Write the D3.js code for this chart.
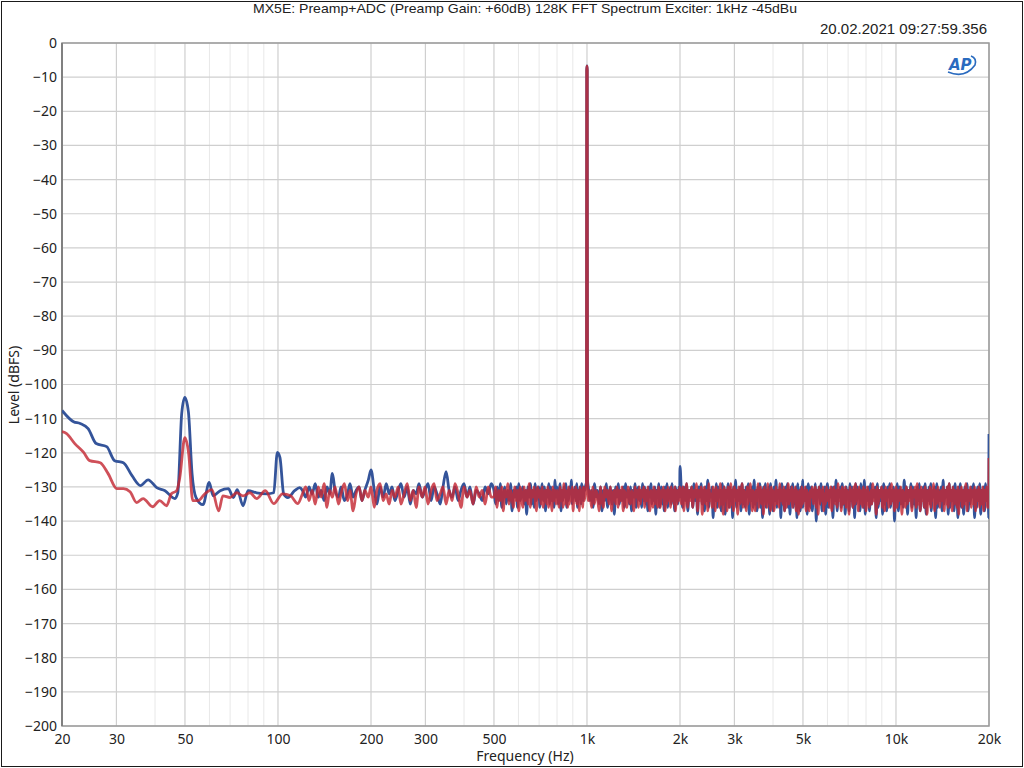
<!DOCTYPE html>
<html>
<head>
<meta charset="utf-8">
<script src="https://cdn.jsdelivr.net/npm/d3@7"></script>
<style>
  body { margin: 0; background: #fff; }
  .tick text { font-family: "Noto Sans", "DejaVu Sans", sans-serif; font-size: 14px; fill: #222; }
  .lbl { font-family: "Noto Sans", "DejaVu Sans", sans-serif; font-size: 14px; fill: #222; }
</style>
</head>
<body>
<script>
// ---- data ----
var freqTicks = [20, 30, 50, 100, 200, 300, 500, 1000, 2000, 3000, 5000, 10000, 20000];
var freqLabels = ["20", "30", "50", "100", "200", "300", "500", "1k", "2k", "3k", "5k", "10k", "20k"];
var levelTicks = d3.range(-200, 10, 10);

// low end, hand traced [Hz, dBFS]
var blueLow = [[20, -107.6], [21.8, -110.9], [22.9, -111.4], [24.3, -112.9], [25.8, -117.3], [27.9, -118.2],
    [29.6, -122.3], [31.6, -122.9], [33.7, -126.7], [35.9, -129.6], [38, -127.9], [40.5, -130.2], [43.1, -131.1],
    [46.4, -133.4], [47.4, -131.7], [48.8, -108.5], [49.95, -103.8], [51.3, -108], [52.7, -126], [54.3, -133.1],
    [57.2, -135.2], [59.9, -128.7], [61.7, -132.6], [65, -131.1], [69.1, -130.5], [71.7, -133.1], [73.8, -130.8],
    [77.1, -135.5], [80, -131.1], [85.3, -131.7], [92.1, -132], [96.9, -131.7], [99.5, -119.9], [101.5, -121.4],
    [104.3, -132], [107.6, -133.1], [113.2, -131.1], [117.5, -130.2]];
var redLow = [[20, -113.8], [20.7, -114.4], [22, -117.3], [23.5, -119.9], [24.6, -122.3], [26.6, -122.9],
    [28.2, -126.1], [30.1, -130.5], [31.6, -130.5], [33.2, -131.4], [34.9, -134.6], [36.6, -133.4], [39.3, -135.8],
    [41.4, -134], [43.6, -135.5], [45.2, -132], [47, -131.1], [48.1, -127.3], [49.95, -115.6], [51.4, -120.2],
    [53, -134], [55.1, -134], [58, -132], [61.1, -130.8], [64.3, -137], [66.3, -132.6], [70, -133.1], [73.5, -131.7],
    [77.1, -132.6], [81.1, -131.7], [85.3, -133.4], [91, -131.1], [96.9, -134.9], [103.4, -132], [109.9, -132.6],
    [116, -134.9]];

// 120 Hz - 490 Hz
var freqMid = [
    120, 123, 126, 129, 132, 135, 138, 141, 144, 147,
    150, 153, 157, 160, 164, 168, 171, 175, 179, 183,
    187, 191, 196, 200, 205, 209, 214, 219, 224, 229,
    234, 239, 245, 250, 256, 262, 268, 274, 280, 286,
    293, 299, 306, 313, 320, 327, 335, 342, 350, 358,
    366, 374, 383, 391, 400, 409, 418, 428, 438, 448,
    458, 468, 479, 490];
var blueMid = [
    -131, -133, -130, -132, -129, -133, -131, -134, -130, -132,
    -126, -131, -133, -130, -134, -132, -129, -133, -131, -130,
    -134, -131, -128, -125, -131, -135, -130, -133, -129, -132,
    -130, -134, -131, -129, -133, -130, -135, -131, -132, -129,
    -133, -131, -129, -134, -130, -132, -135, -130, -125.5, -131,
    -133, -130, -134, -131, -129, -133, -130, -135, -131, -132,
    -134, -130, -132, -129];
var redMid = [
    -132, -130, -134, -131, -135, -130, -133, -129, -136, -131,
    -133, -130, -135, -132, -129, -134, -131, -137, -132, -130,
    -134, -131, -133, -130, -136, -131, -129, -134, -132, -135,
    -131, -133, -130, -135, -132, -129, -134, -131, -136, -130,
    -133, -130, -135, -131, -129, -134, -132, -130, -135, -131,
    -134, -129, -132, -136, -130, -133, -131, -135, -130, -133,
    -131, -135, -130, -133];

// 500 Hz - 992 Hz
var freqA = [
    500, 506, 512, 518, 524, 530, 536, 542, 548, 554,
    560, 566, 572, 578, 584, 590, 596, 602, 608, 614,
    620, 626, 632, 638, 644, 650, 656, 662, 668, 674,
    680, 686, 692, 698, 704, 710, 716, 722, 728, 734,
    740, 746, 752, 758, 764, 770, 776, 782, 788, 794,
    800, 806, 812, 818, 824, 830, 836, 842, 848, 854,
    860, 866, 872, 878, 884, 890, 896, 902, 908, 914,
    920, 926, 932, 938, 944, 950, 956, 962, 968, 974,
    980, 986, 992];
var blueA = [
    -131, -135, -130, -134, -129, -136, -132, -130, -135, -131,
    -134, -129, -137, -131, -133, -130, -136, -129, -134, -132,
    -130, -135, -131, -138, -130, -133, -129, -135, -131, -136,
    -129, -134, -131, -130, -136, -132, -129, -134, -130, -137,
    -131, -133, -129, -135, -130, -134, -131, -136, -128, -133,
    -130, -135, -132, -129, -137, -131, -134, -130, -133, -129,
    -136, -131, -134, -130, -132, -128, -135, -131, -133, -130,
    -134, -129, -136, -131, -133, -130, -135, -129, -132, -134,
    -130, -131, -129];
var redA = [
    -133, -130, -136, -131, -134, -130, -137, -131, -133, -129,
    -135, -131, -133, -136, -130, -134, -131, -137, -130, -133,
    -136, -130, -134, -131, -135, -129, -136, -131, -133, -130,
    -134, -137, -130, -133, -131, -135, -130, -136, -132, -131,
    -135, -130, -136, -131, -133, -137, -130, -134, -131, -135,
    -131, -133, -136, -130, -134, -131, -136, -129, -135, -131,
    -133, -136, -130, -135, -131, -134, -130, -137, -131, -134,
    -130, -135, -131, -133, -137, -130, -134, -131, -136, -130,
    -134, -132, -130];

// the 1 kHz tone
var freqTone = [996, 998, 1000, 1002, 1004];
var blueTone = [-129, -8, -6.7, -8, -128];
var redTone = [-130, -8, -6.8, -8, -129];

// 1010 Hz - 1994 Hz
var freqB = [
    1010, 1022, 1034, 1046, 1058, 1070, 1082, 1094, 1106, 1118,
    1130, 1142, 1154, 1166, 1178, 1190, 1202, 1214, 1226, 1238,
    1250, 1262, 1274, 1286, 1298, 1310, 1322, 1334, 1346, 1358,
    1370, 1382, 1394, 1406, 1418, 1430, 1442, 1454, 1466, 1478,
    1490, 1502, 1514, 1526, 1538, 1550, 1562, 1574, 1586, 1598,
    1610, 1622, 1634, 1646, 1658, 1670, 1682, 1694, 1706, 1718,
    1730, 1742, 1754, 1766, 1778, 1790, 1802, 1814, 1826, 1838,
    1850, 1862, 1874, 1886, 1898, 1910, 1922, 1934, 1946, 1958,
    1970, 1982, 1994];
var blueB = [
    -130, -134, -131, -136, -129, -133, -131, -135, -130, -137,
    -131, -134, -129, -136, -132, -130, -135, -131, -138, -130,
    -133, -129, -135, -131, -134, -130, -136, -129, -133, -131,
    -135, -130, -137, -131, -133, -129, -136, -132, -130, -134,
    -131, -136, -129, -134, -130, -135, -131, -137, -130, -133,
    -129, -135, -131, -134, -130, -138, -131, -133, -129, -136,
    -132, -130, -135, -131, -137, -130, -134, -129, -136, -131,
    -133, -130, -135, -129, -134, -131, -137, -130, -133, -131,
    -135, -130, -133];
var redB = [
    -134, -131, -136, -130, -135, -131, -133, -137, -130, -134,
    -136, -130, -133, -131, -135, -130, -137, -132, -131, -135,
    -130, -136, -131, -134, -130, -137, -131, -133, -136, -130,
    -132, -135, -131, -134, -137, -130, -133, -131, -136, -130,
    -135, -131, -133, -130, -136, -131, -134, -130, -135, -137,
    -131, -133, -136, -130, -135, -131, -134, -136, -130, -133,
    -136, -131, -133, -130, -134, -137, -131, -135, -130, -134,
    -131, -136, -130, -134, -131, -135, -130, -137, -131, -135,
    -131, -134, -130];

// 2 kHz - 19.92 kHz
var freqC = [
    2000, 2020, 2040, 2060, 2080, 2100, 2120, 2140, 2160, 2180,
    2200, 2220, 2240, 2260, 2280, 2300, 2320, 2340, 2360, 2380,
    2400, 2420, 2440, 2460, 2480, 2500, 2520, 2540, 2560, 2580,
    2600, 2620, 2640, 2660, 2680, 2700, 2720, 2740, 2760, 2780,
    2800, 2820, 2840, 2860, 2880, 2900, 2920, 2940, 2960, 2980,
    3000, 3025, 3050, 3075, 3100, 3125, 3150, 3175, 3200, 3225,
    3250, 3275, 3300, 3325, 3350, 3375, 3400, 3425, 3450, 3475,
    3500, 3525, 3550, 3575, 3600, 3625, 3650, 3675, 3700, 3725,
    3750, 3775, 3800, 3825, 3850, 3875, 3900, 3925, 3950, 3975,
    4000, 4030, 4060, 4090, 4120, 4150, 4180, 4210, 4240, 4270,
    4300, 4330, 4360, 4390, 4420, 4450, 4480, 4510, 4540, 4570,
    4600, 4630, 4660, 4690, 4720, 4750, 4780, 4810, 4840, 4870,
    4900, 4930, 4960, 4990,
    5000, 5040, 5080, 5120, 5160, 5200, 5240, 5280, 5320, 5360,
    5400, 5440, 5480, 5520, 5560, 5600, 5640, 5680, 5720, 5760,
    5800, 5840, 5880, 5920, 5960,
    6000, 6050, 6100, 6150, 6200, 6250, 6300, 6350, 6400, 6450,
    6500, 6550, 6600, 6650, 6700, 6750, 6800, 6850, 6900, 6950,
    7000, 7050, 7100, 7150, 7200, 7250, 7300, 7350, 7400, 7450,
    7500, 7550, 7600, 7650, 7700, 7750, 7800, 7850, 7900, 7950,
    8000, 8070, 8140, 8210, 8280, 8350, 8420, 8490, 8560, 8630,
    8700, 8770, 8840, 8910, 8980, 9050, 9120, 9190, 9260, 9330,
    9400, 9470, 9540, 9610, 9680, 9750, 9820, 9890, 9960,
    10000, 10090, 10180, 10270, 10360, 10450, 10540, 10630, 10720, 10810,
    10900, 10990, 11080, 11170, 11260, 11350, 11440, 11530, 11620, 11710,
    11800, 11890, 11980, 12070, 12160, 12250, 12340, 12430, 12520, 12610,
    12700, 12790, 12880, 12970,
    13000, 13110, 13220, 13330, 13440, 13550, 13660, 13770, 13880, 13990,
    14100, 14210, 14320, 14430, 14540, 14650, 14760, 14870, 14980, 15090,
    15200, 15310, 15420, 15530, 15640, 15750, 15860, 15970,
    16000, 16140, 16280, 16420, 16560, 16700, 16840, 16980, 17120, 17260,
    17400, 17540, 17680, 17820, 17960, 18100, 18240, 18380, 18520, 18660,
    18800, 18940, 19080, 19220, 19360, 19500, 19640, 19780, 19920];
var blueC = [
    -124, -131, -136, -130, -134, -129, -137, -131, -133, -130,
    -136, -129, -134, -131, -138, -130, -133, -129, -135, -131,
    -137, -130, -134, -128, -136, -131, -133, -130, -139, -131,
    -134, -129, -136, -130, -133, -131, -137, -129, -135, -130,
    -138, -131, -133, -129, -136, -130, -134, -131, -139, -130,
    -133, -128, -136, -131, -134, -130, -137, -129, -135, -131,
    -136, -130, -133, -129, -138, -131, -134, -130, -136, -128,
    -135, -131, -137, -130, -133, -129, -136, -131, -139, -130,
    -134, -129, -136, -131, -133, -130, -138, -129, -135, -131,
    -137, -130, -134, -128, -136, -131, -133, -130, -139, -129,
    -135, -131, -137, -130, -134, -129, -136, -131, -138, -130,
    -133, -129, -136, -131, -135, -130, -139, -129, -134, -131,
    -137, -130, -133, -128, -136, -131, -134, -130, -138, -129,
    -132, -136, -130, -137, -131, -134, -129, -140, -131, -133,
    -130, -135, -129, -137, -131, -134, -130, -138, -132, -129,
    -136, -131, -133, -130, -139, -130, -134, -128, -137, -131,
    -133, -130, -136, -129, -135, -131, -138, -130, -133, -131,
    -137, -129, -134, -130, -136, -131, -139, -129, -135, -130,
    -133, -131, -137, -129, -134, -130, -136, -128, -138, -131,
    -134, -130, -137, -129, -135, -131, -133, -130, -139, -129,
    -136, -131, -134, -130, -138, -129, -135, -131, -137, -130,
    -133, -129, -136, -131, -134, -130, -140, -131, -133, -129,
    -137, -130, -135, -131, -136, -128, -134, -130, -138, -131,
    -133, -129, -136, -130, -135, -131, -139, -130, -134, -129,
    -137, -131, -133, -130, -136, -129, -138, -131, -134, -130,
    -135, -129, -137, -131, -133, -130, -139, -129, -136, -131,
    -134, -130, -137, -128, -135, -131, -133, -130, -138, -129,
    -136, -131, -134, -130, -137, -129, -135, -131, -139, -130,
    -133, -129, -136, -131, -138, -130, -134, -129, -137, -131,
    -135, -130, -133, -129, -139, -131, -136, -130, -134, -129,
    -138, -131, -135, -130, -137, -129, -134, -131, -136];
var redC = [
    -131, -135, -130, -137, -132, -129, -136, -131, -134, -130,
    -136, -131, -133, -129, -137, -131, -134, -130, -138, -132,
    -130, -135, -131, -137, -129, -134, -132, -136, -130, -133,
    -137, -130, -134, -131, -136, -129, -135, -131, -138, -130,
    -134, -131, -137, -130, -133, -136, -129, -135, -131, -137,
    -130, -134, -131, -138, -130, -135, -132, -129, -136, -131,
    -133, -137, -130, -135, -131, -129, -134, -137, -131, -133,
    -137, -131, -134, -129, -136, -132, -130, -135, -131, -138,
    -130, -135, -131, -136, -129, -134, -132, -137, -130, -133,
    -131, -137, -134, -130, -135, -131, -136, -129, -134, -131,
    -135, -130, -137, -131, -136, -132, -129, -135, -131, -134,
    -130, -136, -131, -134, -130, -137, -131, -135, -138, -131,
    -133, -136, -130, -135, -131, -134, -130, -137, -131, -135,
    -137, -131, -133, -130, -135, -132, -130, -136, -131, -138,
    -130, -135, -131, -134, -130, -137, -132, -135, -130, -134,
    -131, -136, -130, -137, -133, -130, -135, -131, -136, -129,
    -134, -131, -137, -130, -135, -132, -130, -136, -131, -134,
    -138, -130, -133, -131, -136, -130, -135, -129, -134, -131,
    -137, -130, -135, -131, -133, -136, -130, -134, -131, -137,
    -130, -133, -136, -131, -135, -129, -134, -131, -138, -130,
    -135, -131, -133, -130, -136, -131, -137, -130, -134, -131,
    -136, -130, -135, -129, -134, -131, -137, -132, -130, -136,
    -131, -134, -130, -138, -131, -133, -136, -130, -135, -131,
    -134, -130, -137, -131, -133, -130, -136, -129, -135, -131,
    -137, -130, -134, -131, -136, -130, -133, -138, -131, -135,
    -130, -136, -131, -134, -129, -137, -131, -135, -130, -133,
    -136, -131, -134, -130, -137, -131, -135, -130, -136, -129,
    -134, -131, -137, -130, -135, -131, -133, -136, -130, -138,
    -131, -134, -130, -136, -131, -135, -129, -137, -131, -134,
    -130, -136, -131, -135, -130, -137, -131, -134, -130, -136,
    -131, -135, -130, -137, -131, -134, -130, -136, -133];

// top edge of the band
var freqEnd = [19960, 20000];
var blueEnd = [-139, -114.5];
var redEnd = [-136, -121.5];

// ---- chart ----
function pairs(f, v) {
    var n = Math.min(f.length, v.length);
    return f.slice(0, n).map(function (d, i) { return [d, v[i]]; });
}
var blueData = blueLow.concat(pairs(freqMid, blueMid), pairs(freqA, blueA), pairs(freqTone, blueTone),
    pairs(freqB, blueB), pairs(freqC, blueC), pairs(freqEnd, blueEnd));
var redData = redLow.concat(pairs(freqMid, redMid), pairs(freqA, redA), pairs(freqTone, redTone),
    pairs(freqB, redB), pairs(freqC, redC), pairs(freqEnd, redEnd));

var W = 1024, H = 768;
var margin = {top: 43, right: 35, bottom: 42, left: 62},
    width = W - margin.left - margin.right,
    height = H - margin.top - margin.bottom;

var x = d3.scaleLog().domain([20, 20000]).range([0, width]);
var y = d3.scaleLinear().domain([-200, 0]).range([height, 0]);

var svg = d3.select("body").append("svg")
    .attr("width", W)
    .attr("height", H);

// outer frame
svg.append("rect")
    .attr("x", 1.5).attr("y", 1.5)
    .attr("width", W - 3).attr("height", H - 3)
    .attr("fill", "none").attr("stroke", "#1a1a1a");

svg.append("text")
    .attr("class", "lbl")
    .attr("x", 525).attr("y", 13)
    .attr("text-anchor", "middle")
    .attr("textLength", 544).attr("lengthAdjust", "spacingAndGlyphs")
    .style("font-family", "'Liberation Sans Narrow', 'Liberation Sans', sans-serif")
    .style("font-size", "13px")
    .text("MX5E: Preamp+ADC (Preamp Gain: +60dB) 128K FFT Spectrum Exciter: 1kHz -45dBu");

svg.append("text")
    .attr("class", "lbl")
    .attr("x", 987).attr("y", 34)
    .attr("text-anchor", "end")
    .attr("textLength", 167).attr("lengthAdjust", "spacingAndGlyphs")
    .style("font-family", "'Liberation Sans Narrow', 'Liberation Sans', sans-serif")
    .style("font-size", "14px")
    .text("20.02.2021 09:27:59.356");

var g = svg.append("g")
    .attr("transform", "translate(" + margin.left + "," + margin.top + ")");

// grid: minor verticals, then major, then horizontals
g.append("g").selectAll("line")
    .data(x.ticks().filter(function (d) { return freqTicks.indexOf(d) < 0; }))
    .enter().append("line")
    .attr("x1", function (d) { return x(d); }).attr("x2", function (d) { return x(d); })
    .attr("y1", 0).attr("y2", height)
    .attr("stroke", "#e8e8e8").attr("stroke-width", 1);

g.append("g").selectAll("line")
    .data(freqTicks)
    .enter().append("line")
    .attr("x1", function (d) { return x(d); }).attr("x2", function (d) { return x(d); })
    .attr("y1", 0).attr("y2", height)
    .attr("stroke", "#cfcfcf").attr("stroke-width", 1.2);

g.append("g").selectAll("line")
    .data(levelTicks)
    .enter().append("line")
    .attr("x1", 0).attr("x2", width)
    .attr("y1", function (d) { return y(d); }).attr("y2", function (d) { return y(d); })
    .attr("stroke", "#cfcfcf").attr("stroke-width", 1.2);

// plot frame
g.append("rect")
    .attr("width", width).attr("height", height)
    .attr("fill", "none").attr("stroke", "#9a9a9a").attr("stroke-width", 1.5);
g.append("line")
    .attr("x1", 0).attr("x2", 0).attr("y1", 0).attr("y2", height)
    .attr("stroke", "#808080").attr("stroke-width", 2);

// AP logo
var logo = svg.append("g").attr("transform", "translate(947,55)");
logo.append("text")
    .attr("x", 2).attr("y", 15)
    .style("font-family", "'DejaVu Sans', sans-serif")
    .style("font-size", "15px").style("font-weight", "bold").style("font-style", "italic")
    .attr("fill", "#2a6bbf")
    .text("AP");
logo.append("path")
    .attr("d", "M1,17 Q18,24 28,10 Q30,3 24,1")
    .attr("fill", "none").attr("stroke", "#2a6bbf").attr("stroke-width", 1.6);

// traces
g.append("clipPath").attr("id", "clip")
    .append("rect").attr("width", width).attr("height", height);

var line = d3.line()
    .curve(d3.curveMonotoneX)
    .x(function (d) { return x(d[0]); })
    .y(function (d) { return y(d[1]); });

g.append("path")
    .datum(blueData)
    .attr("clip-path", "url(#clip)")
    .attr("fill", "none")
    .attr("stroke", "#34549a")
    .attr("stroke-width", 2.8)
    .attr("stroke-linejoin", "round")
    .attr("d", line);

g.append("path")
    .datum(redData)
    .attr("clip-path", "url(#clip)")
    .attr("fill", "none")
    .attr("stroke", "#c42a35")
    .attr("stroke-opacity", 0.82)
    .attr("stroke-width", 2.8)
    .attr("stroke-linejoin", "round")
    .attr("d", line);

// axes (labels only)
var xAxis = g.append("g")
    .attr("transform", "translate(0," + height + ")")
    .call(d3.axisBottom(x).tickValues(freqTicks)
        .tickFormat(function (d, i) { return freqLabels[i]; })
        .tickSize(0).tickPadding(8));
xAxis.select(".domain").remove();

var yAxis = g.append("g")
    .call(d3.axisLeft(y).tickValues(levelTicks).tickSize(0).tickPadding(5));
yAxis.select(".domain").remove();

svg.append("text")
    .attr("class", "lbl")
    .attr("x", 525).attr("y", 761)
    .attr("text-anchor", "middle")
    .text("Frequency (Hz)");

svg.append("text")
    .attr("class", "lbl")
    .attr("transform", "translate(19,385) rotate(-90)")
    .attr("text-anchor", "middle")
    .text("Level (dBFS)");
</script>
</body>
</html>
